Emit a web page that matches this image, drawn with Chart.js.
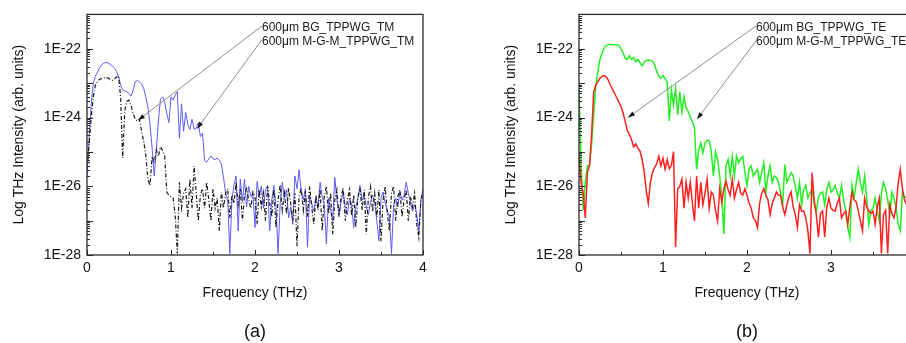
<!DOCTYPE html>
<html><head><meta charset="utf-8">
<script src="https://cdn.jsdelivr.net/npm/chart.js@4.4.1/dist/chart.umd.min.js"></script>
<style>
html,body{margin:0;padding:0;width:906px;height:343px;overflow:hidden;background:#fff;}
.panel{position:absolute;top:0;width:453px;height:343px;}
#pa{left:0px}
#pb{left:492px}
</style></head><body>
<div class="panel" id="pa"><canvas id="ca" width="453" height="343"></canvas></div>
<div class="panel" id="pb"><canvas id="cb" width="453" height="343"></canvas></div>
<script>
// Frequency (THz)
const freq = [
0,0.025,0.05,0.075,0.1,0.125,0.15,0.175,
0.2,0.225,0.25,0.275,0.3,0.325,0.35,0.375,
0.4,0.425,0.45,0.475,0.5,0.525,0.55,0.575,
0.6,0.625,0.65,0.675,0.7,0.725,0.75,0.775,
0.8,0.825,0.85,0.875,0.9,0.925,0.95,0.975,
1,1.025,1.05,1.075,1.1,1.125,1.15,1.175,
1.2,1.225,1.25,1.275,1.3,1.325,1.35,1.375,
1.4,1.425,1.45,1.475,1.5,1.525,1.55,1.575,
1.6,1.625,1.65,1.675,1.7,1.725,1.75,1.775,
1.8,1.825,1.85,1.875,1.9,1.925,1.95,1.975,
2,2.025,2.05,2.075,2.1,2.125,2.15,2.175,
2.2,2.225,2.25,2.275,2.3,2.325,2.35,2.375,
2.4,2.425,2.45,2.475,2.5,2.525,2.55,2.575,
2.6,2.625,2.65,2.675,2.7,2.725,2.75,2.775,
2.8,2.825,2.85,2.875,2.9,2.925,2.95,2.975,
3,3.025,3.05,3.075,3.1,3.125,3.15,3.175,
3.2,3.225,3.25,3.275,3.3,3.325,3.35,3.375,
3.4,3.425,3.45,3.475,3.5,3.525,3.55,3.575,
3.6,3.625,3.65,3.675,3.7,3.725,3.75,3.775,
3.8,3.825,3.85,3.875,3.9,3.925,3.95,3.975,
4];

// (a) 600um BG_TPPWG_TM (black dash-dot)
const bgTM = [
3.2e-26,1.6e-25,1.0e-24,4.0e-24,8.9e-24,1.1e-23,1.3e-23,1.35e-23,
1.4e-23,1.5e-23,1.4e-23,1.3e-23,1.2e-23,1.3e-23,1.5e-23,1.6e-23,
4.0e-24,6.6e-26,1.6e-24,3.0e-24,3.2e-24,2.2e-24,1.3e-24,8.9e-25,
7.9e-25,8.9e-25,4.0e-25,2.0e-25,7.9e-26,1.6e-26,1.05e-26,7.4e-26,
4.8e-26,1.15e-25,7.4e-26,1.4e-25,1.1e-25,7.4e-26,6.8e-27,5.5e-27,
5.0e-27,4.5e-27,1.5e-27,1.1e-28,1.3e-26,2.3e-27,6.3e-27,8.5e-27,
1.2e-27,1.6e-26,2.3e-27,3.9e-26,6.3e-27,9.8e-28,5.5e-27,8.5e-27,
2.3e-27,1.3e-26,4.0e-27,9.8e-28,8.5e-27,2.3e-27,4.5e-27,5.1e-28,
6.8e-27,2.3e-27,6.3e-27,8.5e-27,1.2e-27,5.5e-27,3.2e-27,1.3e-26,
2.9e-27,8.5e-27,9.8e-28,5.5e-27,8.5e-27,4.0e-27,2.3e-27,6.8e-27,
5.0e-27,7.9e-28,7.9e-27,2.5e-27,6.3e-27,1.0e-27,1.0e-26,3.2e-27,
1.3e-27,7.9e-27,6.3e-28,4.0e-27,1.1e-26,2.0e-27,6.3e-27,1.6e-27,
8.9e-27,3.2e-27,1.0e-27,6.3e-27,1.8e-28,5.0e-27,8.9e-27,2.0e-27,
7.1e-27,1.3e-27,1.0e-26,2.5e-27,7.9e-28,5.6e-27,2.0e-27,7.9e-27,
5.0e-28,5.0e-27,1.0e-26,1.6e-27,6.3e-27,4.0e-28,4.0e-27,7.9e-27,
1.3e-27,5.0e-27,8.9e-27,1.0e-27,4.0e-27,7.9e-27,1.4e-27,5.6e-27,
6.3e-28,4.5e-27,8.9e-27,2.0e-27,7.9e-27,4.0e-28,5.0e-27,1.0e-26,
1.8e-27,6.3e-27,1.3e-27,7.9e-27,2.5e-28,4.0e-27,1.0e-26,1.6e-27,
5.0e-28,6.3e-27,1.0e-26,1.0e-27,5.0e-27,7.9e-27,1.3e-27,4.0e-27,
7.9e-27,1.0e-27,5.0e-27,2.5e-27,6.3e-27,7.9e-28,3.2e-28,4.0e-27,
6.3e-27];

// (a) 600um M-G-M_TPPWG_TM (blue)
const mgmTM = [
2.0e-26,2.5e-25,2.5e-24,1.0e-23,1.6e-23,2.1e-23,2.8e-23,3.4e-23,
3.8e-23,4.0e-23,3.9e-23,3.5e-23,3.2e-23,2.8e-23,2.2e-23,1.6e-23,
8.9e-24,6.3e-24,6.0e-24,5.6e-24,5.0e-24,4.2e-24,6.3e-24,1.1e-23,
1.2e-23,1.1e-23,9.5e-24,7.1e-24,4.0e-24,2.0e-24,6.3e-25,1.3e-25,
2.0e-26,1.1e-25,7.9e-25,3.5e-24,4.0e-24,2.8e-24,1.3e-24,7.1e-25,
4.0e-24,3.2e-24,4.5e-24,5.6e-24,2.5e-25,2.5e-24,4.0e-25,1.4e-24,
6.3e-25,4.5e-25,8.9e-25,4.5e-25,5.0e-25,7.1e-25,2.8e-25,3.5e-25,
5.6e-26,5.0e-26,6.3e-26,7.6e-26,6.3e-26,6.0e-26,6.6e-26,5.6e-26,
4.5e-26,1.8e-26,6.3e-27,4.0e-27,1.1e-28,4.0e-27,1.1e-26,2.0e-26,
5.0e-28,1.6e-26,3.5e-27,1.6e-26,2.5e-27,1.0e-26,5.0e-27,6.3e-27,
6.3e-28,1.4e-26,5.0e-27,1.0e-26,2.3e-27,7.9e-27,1.05e-26,5.1e-28,
4.0e-27,1.05e-26,2.5e-27,1.1e-28,3.2e-27,1.3e-26,4.5e-27,7.9e-27,
1.2e-27,2.5e-27,7.8e-28,2.0e-26,8.5e-27,3.0e-26,6.8e-27,4.0e-27,
8.5e-27,1.7e-28,5.5e-27,3.2e-27,1.9e-27,4.5e-27,2.5e-27,1.3e-26,
5.0e-27,2.9e-27,2.1e-28,4.5e-27,2.0e-27,9.8e-28,1.8e-26,4.0e-27,
1.5e-27,3.5e-27,6.8e-27,2.5e-27,1.5e-27,4.5e-27,2.8e-27,6.3e-28,
2.5e-27,4.5e-27,1.05e-26,4.0e-27,5.5e-27,2.5e-27,1.5e-27,3.5e-27,
5.5e-27,3.2e-27,1.0e-27,2.6e-28,4.5e-27,6.8e-27,3.2e-27,1.9e-27,
1.3e-27,1.1e-28,2.9e-27,4.5e-27,2.5e-27,6.8e-27,4.0e-27,5.5e-27,
1.3e-26,6.3e-27,3.5e-27,1.9e-27,2.9e-27,1.6e-27,5.1e-28,4.0e-27,
8.5e-27];

// (b) 600um BG_TPPWG_TE (red)
const bgTE = [
7.4e-26,1.26e-26,6.3e-27,1.2e-27,2.5e-26,3.9e-26,3.2e-25,5.6e-24,
8.9e-24,1.1e-23,1.4e-23,1.6e-23,1.66e-23,1.5e-23,1.2e-23,8.7e-24,
6.6e-24,5.0e-24,3.7e-24,2.8e-24,2.1e-24,1.35e-24,7.6e-25,4.2e-25,
3.2e-25,2.3e-25,1.4e-25,1.7e-25,1.3e-25,1.07e-25,6.3e-26,2.8e-26,
7.9e-27,3.2e-27,1.3e-26,2.5e-26,3.5e-26,4.5e-26,7.4e-26,3.9e-26,
6.6e-26,3.1e-26,6.0e-26,3.2e-26,4.0e-26,1.02e-25,1.7e-28,8.5e-27,
1.0e-26,1.6e-26,2.3e-27,1.3e-26,4.5e-27,1.3e-26,3.2e-27,9.8e-28,
2.0e-26,2.3e-27,1.3e-26,2.9e-27,6.3e-27,1.6e-26,2.3e-27,6.8e-27,
5.5e-27,2.0e-27,9.8e-28,8.5e-27,3.5e-27,8.5e-27,1.4e-26,7.9e-27,
5.5e-27,1.6e-26,4.5e-27,7.9e-27,1.3e-26,6.3e-27,5.5e-27,8.5e-27,
5.5e-27,3.2e-27,2.3e-27,1.2e-27,1.0e-27,6.3e-28,3.2e-27,6.3e-27,
8.5e-27,5.5e-27,4.0e-27,1.5e-27,3.2e-27,4.5e-27,6.8e-27,5.5e-27,
5.5e-27,2.5e-27,1.5e-27,2.9e-27,5.0e-27,6.8e-27,2.5e-27,1.5e-27,
6.3e-28,2.9e-27,1.9e-27,1.9e-27,1.2e-27,5.0e-28,1.1e-28,2.5e-26,
4.0e-27,1.5e-27,3.3e-28,1.6e-27,1.9e-27,3.3e-28,2.5e-27,4.5e-27,
2.3e-27,2.0e-27,1.9e-27,3.2e-27,4.5e-27,1.2e-27,1.6e-27,1.9e-27,
7.8e-28,2.5e-27,6.8e-27,4.0e-27,3.5e-27,1.9e-27,1.0e-27,5.1e-28,
4.5e-27,2.5e-27,1.9e-27,1.6e-27,1.9e-27,7.8e-28,2.5e-27,4.5e-27,
1.1e-28,1.5e-27,2.0e-27,1.1e-28,2.9e-27,1.6e-27,1.2e-27,2.5e-27,
1.26e-26,3.1e-26,8.5e-27,4.0e-27,2.9e-27,2.0e-27,4.0e-27,2.5e-27,
3.2e-27];

// (b) 600um M-G-M_TPPWG_TE (green)
const mgmTE = [
6.3e-24,4.0e-26,2.0e-27,1.3e-26,3.9e-26,4.0e-26,1.6e-25,1.3e-24,
7.9e-24,2.2e-23,5.0e-23,7.6e-23,1.05e-22,1.26e-22,1.32e-22,1.35e-22,
1.32e-22,1.32e-22,1.29e-22,1.26e-22,1.0e-22,7.6e-23,5.2e-23,5.0e-23,
6.2e-23,5.0e-23,5.5e-23,4.2e-23,4.8e-23,4.0e-23,3.2e-23,4.0e-23,
4.6e-23,4.7e-23,4.6e-23,4.4e-23,3.5e-23,2.2e-23,1.6e-23,1.4e-23,
1.66e-23,1.35e-23,1.05e-23,7.9e-25,6.3e-24,2.3e-24,7.1e-24,1.2e-24,
5.6e-24,1.5e-24,4.0e-24,1.9e-24,1.5e-24,1.0e-24,7.6e-25,5.0e-25,
3.1e-26,1.15e-25,1.8e-25,9.3e-26,1.8e-25,2.2e-25,2.1e-25,1.0e-25,
2.0e-26,1.0e-25,6.0e-26,2.0e-26,5.0e-27,4.1e-28,4.0e-26,6.0e-26,
2.0e-26,7.4e-26,2.0e-26,7.4e-26,4.8e-26,6.3e-26,7.4e-26,2.5e-26,
1.05e-26,3.2e-26,3.9e-26,2.0e-26,2.5e-26,3.1e-26,1.3e-26,2.5e-26,
4.8e-26,6.8e-27,2.0e-26,3.9e-26,1.3e-26,2.0e-26,1.8e-26,1.3e-26,
6.3e-27,2.9e-27,4.3e-26,1.3e-26,1.8e-26,2.5e-26,2.0e-26,1.0e-26,
4.5e-27,1.3e-26,2.9e-27,7.9e-27,1.05e-26,4.5e-27,6.3e-27,8.5e-27,
2.9e-27,1.9e-27,4.5e-27,6.3e-27,6.8e-27,2.9e-27,7.9e-27,1.3e-26,
6.8e-27,7.9e-27,1.05e-26,6.3e-27,4.5e-27,1.05e-26,4.0e-27,1.9e-27,
6.3e-28,3.3e-28,1.05e-26,4.5e-27,1.26e-26,3.1e-26,1.26e-26,6.8e-27,
2.0e-26,4.5e-27,7.8e-28,2.0e-27,2.3e-27,4.5e-27,2.0e-27,9.8e-28,
6.3e-27,1.3e-26,8.5e-27,4.0e-27,1.5e-27,6.8e-27,4.5e-27,2.3e-27,
7.9e-28,5.1e-28,6.8e-27,5.0e-27,4.5e-27,7.9e-27,3.2e-27,6.3e-27,
4.0e-27];

const yTickValues = [1e-28, 1e-26, 1e-24, 1e-22];
const yTickLabels = ['1E-28', '1E-26', '1E-24', '1E-22'];
const xTickValues = [0, 1, 2, 3, 4];
const xTickLabels = ['0', '1', '2', '3', '4'];
const panelLabels = ['(a)', '(b)'];
const notesTextA = ['600\u03bcm BG_TPPWG_TM', '600\u03bcm M-G-M_TPPWG_TM'];
const notesTextB = ['600\u03bcm BG_TPPWG_TE', '600\u03bcm M-G-M_TPPWG_TE'];

Chart.defaults.font.family = '"Liberation Sans", Arial, Helvetica, sans-serif';
Chart.defaults.color = '#111';

const frameTicks = {
  id: 'frameTicks',
  afterDatasetsDraw(chart) {
    const {ctx, chartArea: a, scales: {x, y}} = chart;
    ctx.save();
    ctx.strokeStyle = '#2a2a2a';
    ctx.lineWidth = 1;
    ctx.beginPath();
    for (let e = -28; e <= -21; e++) {
      for (let m = 1; m <= 9; m++) {
        if (e === -21 && m > 1) break;
        const py = Math.round(y.getPixelForValue(m * Math.pow(10, e))) + 0.5;
        const len = m === 1 ? 6 : 3;
        ctx.moveTo(a.left, py); ctx.lineTo(a.left + len, py);
      }
    }
    for (let t = 0; t <= 8; t++) {
      const px = Math.round(x.getPixelForValue(t / 2)) + 0.5;
      const len = t % 2 === 0 ? 5 : 3;
      ctx.moveTo(px, a.bottom); ctx.lineTo(px, a.bottom - len);
    }
    ctx.stroke();
    ctx.lineWidth = 1.3;
    ctx.strokeRect(a.left, a.top, a.right - a.left, a.bottom - a.top);
    ctx.restore();
  }
};

const notes = {
  id: 'notes',
  afterDraw(chart, args, opts) {
    if (!opts || !opts.text) return;
    const {ctx, chartArea: a, scales: {x, y}} = chart;
    ctx.save();
    opts.arrows.forEach(ar => {
      const x0 = x.getPixelForValue(ar.from[0]), y0 = y.getPixelForValue(ar.from[1]);
      const x1 = x.getPixelForValue(ar.to[0]), y1 = y.getPixelForValue(ar.to[1]);
      ctx.strokeStyle = '#8c8c8c'; ctx.lineWidth = 1;
      ctx.beginPath(); ctx.moveTo(x0, y0); ctx.lineTo(x1, y1); ctx.stroke();
      const ang = Math.atan2(y1 - y0, x1 - x0), L = 7, W = 2.3;
      ctx.fillStyle = '#111';
      ctx.beginPath(); ctx.moveTo(x1, y1);
      ctx.lineTo(x1 - L * Math.cos(ang) + W * Math.sin(ang), y1 - L * Math.sin(ang) - W * Math.cos(ang));
      ctx.lineTo(x1 - L * Math.cos(ang) - W * Math.sin(ang), y1 - L * Math.sin(ang) + W * Math.cos(ang));
      ctx.closePath(); ctx.fill();
    });
    ctx.font = '12px "Liberation Sans", Arial, sans-serif';
    ctx.fillStyle = '#1a1a1a';
    ctx.textBaseline = 'middle';
    ctx.textAlign = 'left';
    opts.text.forEach((t, i) => ctx.fillText(t, x.getPixelForValue(opts.textX), y.getPixelForValue(opts.textY[i])));
    // panel caption centred under the plot area
    ctx.font = '18px "Liberation Sans", Arial, sans-serif';
    ctx.fillStyle = '#111';
    ctx.textAlign = 'center';
    ctx.fillText(opts.panel, (a.left + a.right) / 2, chart.height - 11);
    ctx.restore();
  }
};

function makeChart(id, series, noteOpts) {
  return new Chart(document.getElementById(id), {
    type: 'line',
    data: {
      datasets: series.map(s => ({
        label: s.label,
        data: freq.map((f, i) => ({x: f, y: s.values[i]})),
        borderColor: s.color,
        borderWidth: s.width,
        borderDash: s.dash || [],
        pointRadius: 0,
        tension: 0,
        fill: false
      }))
    },
    plugins: [frameTicks, notes],
    options: {
      responsive: false,
      animation: false,
      events: [],
      layout: {padding: {top: 7, right: 30, bottom: 0, left: 0}},
      plugins: {
        legend: {display: false},
        tooltip: {enabled: false},
        title: {display: false},
        notes: noteOpts
      },
      scales: {
        x: {
          type: 'linear', min: 0, max: 4,
          afterBuildTicks: s => { s.ticks = xTickValues.map(v => ({value: v})); },
          afterFit: s => { s.height = 88; },
          grid: {display: false, drawTicks: false},
          border: {display: false},
          ticks: {autoSkip: false, maxRotation: 0, padding: 5, color: '#111', font: {size: 14},
                  callback: (v, i) => xTickLabels[i]},
          title: {display: true, text: 'Frequency (THz)', color: '#111', font: {size: 14},
                  padding: {top: 0, bottom: 41.6}}
        },
        y: {
          type: 'logarithmic', min: 1e-28, max: 1e-21,
          afterBuildTicks: s => { s.ticks = yTickValues.map(v => ({value: v})); },
          afterFit: s => { s.width = 87; },
          grid: {display: false, drawTicks: false},
          border: {display: false},
          ticks: {autoSkip: false, padding: 6, color: '#111', font: {size: 14},
                  callback: (v, i) => yTickLabels[i]},
          title: {display: true, text: 'Log THz Intensity (arb. units)', color: '#111', font: {size: 14},
                  padding: {top: 11, bottom: 0}}
        }
      }
    }
  });
}

makeChart('ca', [
  {label: notesTextA[0], values: bgTM, color: '#1a1a1a', width: 1.2, dash: [4, 2, 1, 2]},
  {label: notesTextA[1], values: mgmTM, color: 'rgb(92,92,245)', width: 1}
], {
  panel: panelLabels[0],
  text: notesTextA, textX: 2.083, textY: [4.0e-22, 1.6e-22],
  arrows: [{from: [2.083, 4.6e-22], to: [0.607, 8.3e-25]},
           {from: [2.083, 1.85e-22], to: [1.31, 4.7e-25]}]
});

makeChart('cb', [
  {label: notesTextB[0], values: bgTE, color: '#ff2020', width: 1.5},
  {label: notesTextB[1], values: mgmTE, color: '#22ee22', width: 1.5}
], {
  panel: panelLabels[1],
  text: notesTextB, textX: 2.107, textY: [4.0e-22, 1.6e-22],
  arrows: [{from: [2.107, 4.6e-22], to: [0.583, 1.0e-24]},
           {from: [2.119, 1.85e-22], to: [1.405, 8.9e-25]}]
});
</script>
</body></html>
